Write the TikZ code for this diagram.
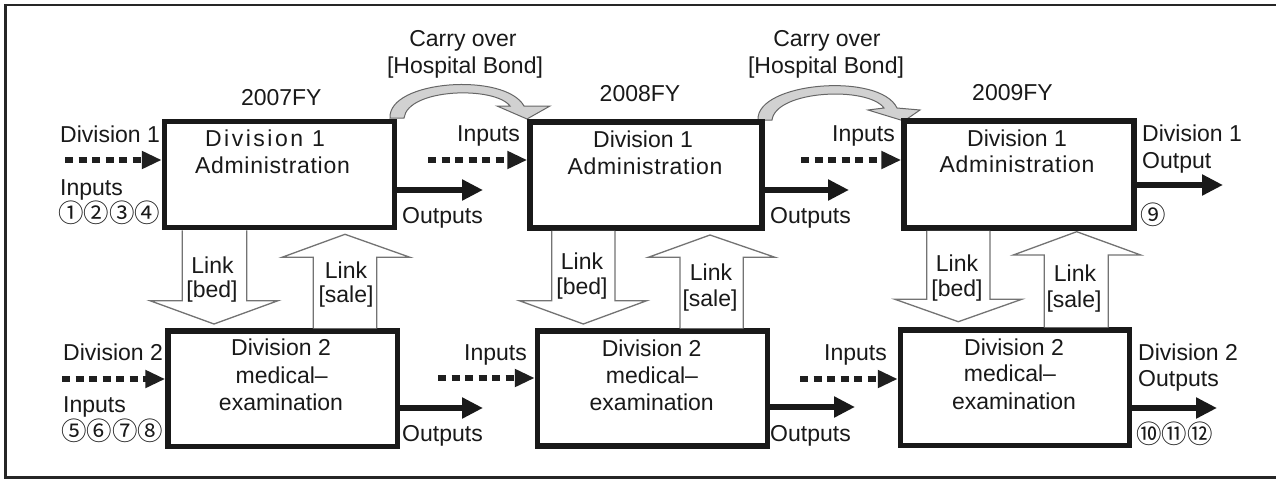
\documentclass[tikz,border=0pt]{standalone}
\usepackage{fontspec}
\setmainfont{Liberation Sans}
\newfontfamily\cjk{Noto Sans CJK JP}
\newfontfamily\wideA[LetterSpace=11]{Liberation Sans}
\newfontfamily\wideB[LetterSpace=3]{Liberation Sans}
\usetikzlibrary{arrows.meta}
\begin{document}
\begin{tikzpicture}[x=1pt,y=-1pt,
  box/.style={draw=black!90, line width=5.5pt, fill=white, inner sep=0pt},
  lbl/.style={font=\fontsize{23}{27}\selectfont, inner sep=0pt, text=black!90},
  num/.style={font=\cjk\fontsize{25.5}{27}\selectfont, inner sep=0pt, text=black!90},
  inarrow/.style={draw=black!88, line width=5.5pt, dash pattern=on 8pt off 5.5pt, -{Triangle[length=20pt,width=17pt]}},
  outarrow/.style={draw=black!90, line width=6pt, -{Triangle[length=21pt,width=20pt]}},
  linkarrow/.style={draw=black!55, line width=1.3pt, fill=white, line join=miter},
  carry/.style={draw=black!60, fill=black!18, line width=1pt}]
\useasboundingbox (0,0) rectangle (1276,479);
\fill[white] (0,0) rectangle (1276,479);
% frame
\draw[line width=2.6pt, black!85] (1276,5) -- (5.5,5) -- (5.5,477.5) -- (1276,477.5);

% carry-over arrows
\draw[carry] (390,118) .. controls (388,80) and (505,72) .. (524,106) -- (550,106) -- (527,119) -- (497,106) -- (510,106) .. controls (495,86) and (408,88) .. (404,118) -- cycle;
\draw[carry] (758,120) .. controls (756,82) and (880,72) .. (897,108) -- (920,110) -- (904,121) -- (868,110) -- (884,108) .. controls (868,86) and (776,90) .. (772,120) -- cycle;

% boxes
\node[box, minimum width=230pt, minimum height=106pt] (A1) at (279.5,174.5) {};
\node[box, minimum width=232pt, minimum height=106pt] (B1) at (646,175) {};
\node[box, minimum width=230pt, minimum height=107pt] (C1) at (1019,174.5) {};
\node[box, minimum width=229.5pt, minimum height=115.5pt] (A2) at (282.75,388.75) {};
\node[box, minimum width=230pt, minimum height=115pt] (B2) at (652.5,388.5) {};
\node[box, minimum width=229pt, minimum height=115.5pt] (C2) at (1015,387.75) {};

% link arrows
\draw[linkarrow] (182.3,0 |- A1.south) -- (182.3,300.7) -- (150,300.7) -- (214,324) -- (278,300.7) -- (246.7,300.7) -- (246.7,0 |- A1.south);
\draw[linkarrow] (313.3,0 |- A2.north) -- (313.3,257.3) -- (282,257.3) -- (345,234.3) -- (410,257.3) -- (376.7,257.3) -- (376.7,0 |- A2.north);
\draw[linkarrow] (551.7,0 |- B1.south) -- (551.7,300.7) -- (519.3,300.7) -- (583.3,324) -- (646.7,300.7) -- (615,300.7) -- (615,0 |- B1.south);
\draw[linkarrow] (680,0 |- B2.north) -- (680,257.3) -- (648.3,257.3) -- (710,235) -- (775,257.3) -- (743.3,257.3) -- (743.3,0 |- B2.north);
\draw[linkarrow] (926.7,0 |- C1.south) -- (926.7,299.3) -- (895,299.3) -- (958.3,321.7) -- (1021.7,299.3) -- (990,299.3) -- (990,0 |- C1.south);
\draw[linkarrow] (1044.3,0 |- C2.north) -- (1044.3,255) -- (1013.3,255) -- (1076.7,231.7) -- (1140.7,255) -- (1108.3,255) -- (1108.3,0 |- C2.north);

% input arrows
\coordinate (A1in) at (65,160);
\coordinate (B1in) at (428,160);
\coordinate (C1in) at (801,160);
\coordinate (A2in) at (62,379);
\coordinate (B2in) at (438,378);
\coordinate (C2in) at (800,379);
\draw[inarrow] (A1in) -- (A1in -| A1.west);
\draw[inarrow] (B1in) -- (B1in -| B1.west);
\draw[inarrow] (C1in) -- (C1in -| C1.west);
\draw[inarrow] (A2in) -- (A2in -| A2.west);
\draw[inarrow] (B2in) -- (B2in -| B2.west);
\draw[inarrow] (C2in) -- (C2in -| C2.west);

% output arrows
\coordinate (A1out) at (483,190);
\coordinate (B1out) at (849,190);
\coordinate (C1out) at (1223,185);
\coordinate (A2out) at (483,408);
\coordinate (B2out) at (855,407);
\coordinate (C2out) at (1217,408);
\draw[outarrow] (A1out -| A1.east) -- (A1out);
\draw[outarrow] (B1out -| B1.east) -- (B1out);
\draw[outarrow] (C1out -| C1.east) -- (C1out);
\draw[outarrow] (A2out -| A2.east) -- (A2out);
\draw[outarrow] (B2out -| B2.east) -- (B2out);
\draw[outarrow] (C2out -| C2.east) -- (C2out);

% box texts
\node[lbl, anchor=base, font=\wideA\fontsize{23}{27}\selectfont] (A1a) at (265,146.7) {Division 1};
\node[lbl, anchor=base, font=\wideB\fontsize{23}{27}\selectfont] (A1b) at (272.5,173.3) {Administration};
\node[lbl, anchor=base] (B1a) at (643,147) {Division 1};
\node[lbl, anchor=base, font=\wideB\fontsize{23}{27}\selectfont] (B1b) at (645,174) {Administration};
\node[lbl, anchor=base] (C1a) at (1017,146) {Division 1};
\node[lbl, anchor=base, font=\wideB\fontsize{23}{27}\selectfont] (C1b) at (1017,172.7) {Administration};
\node[lbl, anchor=base] (A2a) at (281,355) {Division 2};
\node[lbl, anchor=base] (A2b) at (281.7,383) {medical–};
\node[lbl, anchor=base] (A2c) at (281,410) {examination};
\node[lbl, anchor=base] (B2a) at (651.7,356) {Division 2};
\node[lbl, anchor=base] (B2b) at (652,383) {medical–};
\node[lbl, anchor=base] (B2c) at (651.7,410.7) {examination};
\node[lbl, anchor=base] (C2a) at (1014,355) {Division 2};
\node[lbl, anchor=base] (C2b) at (1010,381) {medical–};
\node[lbl, anchor=base] (C2c) at (1014,409.5) {examination};

% years and carry-over labels
\node[lbl, anchor=base] (y1) at (281.3,105) {2007FY};
\node[lbl, anchor=base] (y2) at (640,101.7) {2008FY};
\node[lbl, anchor=base] (y3) at (1012.5,100) {2009FY};
\node[lbl, anchor=base] (co1a) at (463,46.7) {Carry over};
\node[lbl, anchor=base] (co1b) at (465,73) {[Hospital Bond]};
\node[lbl, anchor=base] (co2a) at (827,46.7) {Carry over};
\node[lbl, anchor=base] (co2b) at (826,73) {[Hospital Bond]};

% link labels
\node[lbl, anchor=base] (lA1) at (212.5,273) {Link};
\node[lbl, anchor=base] (lA2) at (212,297) {[bed]};
\node[lbl, anchor=base] (lA3) at (346,278) {Link};
\node[lbl, anchor=base] (lA4) at (346,302.5) {[sale]};
\node[lbl, anchor=base] (lB1) at (582,269) {Link};
\node[lbl, anchor=base] (lB2) at (582,294) {[bed]};
\node[lbl, anchor=base] (lB3) at (711,280) {Link};
\node[lbl, anchor=base] (lB4) at (710,306) {[sale]};
\node[lbl, anchor=base] (lC1) at (957,271.7) {Link};
\node[lbl, anchor=base] (lC2) at (957,296) {[bed]};
\node[lbl, anchor=base] (lC3) at (1075,281.7) {Link};
\node[lbl, anchor=base] (lC4) at (1074,307) {[sale]};

% outside labels
\node[lbl, anchor=base west] (d1) at (60,142) {Division 1};
\node[lbl, anchor=base west] (i1) at (60,195) {Inputs};
\node[num, anchor=west] (n1) at (58,213) {①②③④};
\node[lbl, anchor=base west] (d2) at (63,360) {Division 2};
\node[lbl, anchor=base west] (i2) at (63,412.7) {Inputs};
\node[num, anchor=west] (n2) at (61,431) {⑤⑥⑦⑧};
\node[lbl, anchor=base west] (oA1) at (402,223) {Outputs};
\node[lbl, anchor=base west] (oA2) at (402,441.7) {Outputs};
\node[lbl, anchor=base east] (iB1) at (520,141.7) {Inputs};
\node[lbl, anchor=base west] (oB1) at (770,223) {Outputs};
\node[lbl, anchor=base east] (iB2) at (527,360) {Inputs};
\node[lbl, anchor=base west] (oB2) at (770,441.7) {Outputs};
\node[lbl, anchor=base east] (iC1) at (895,141) {Inputs};
\node[lbl, anchor=base east] (iC2) at (887,360) {Inputs};
\node[lbl, anchor=base west] (dC1) at (1142,141.7) {Division 1};
\node[lbl, anchor=base west] (oC1) at (1142,168) {Output};
\node[num, anchor=west] (n3) at (1140,215) {⑨};
\node[lbl, anchor=base west] (dC2) at (1138,360) {Division 2};
\node[lbl, anchor=base west] (oC2) at (1138,386.7) {Outputs};
\node[num, anchor=west] (n4) at (1136,434) {⑩⑪⑫};
\end{tikzpicture}
\end{document}
